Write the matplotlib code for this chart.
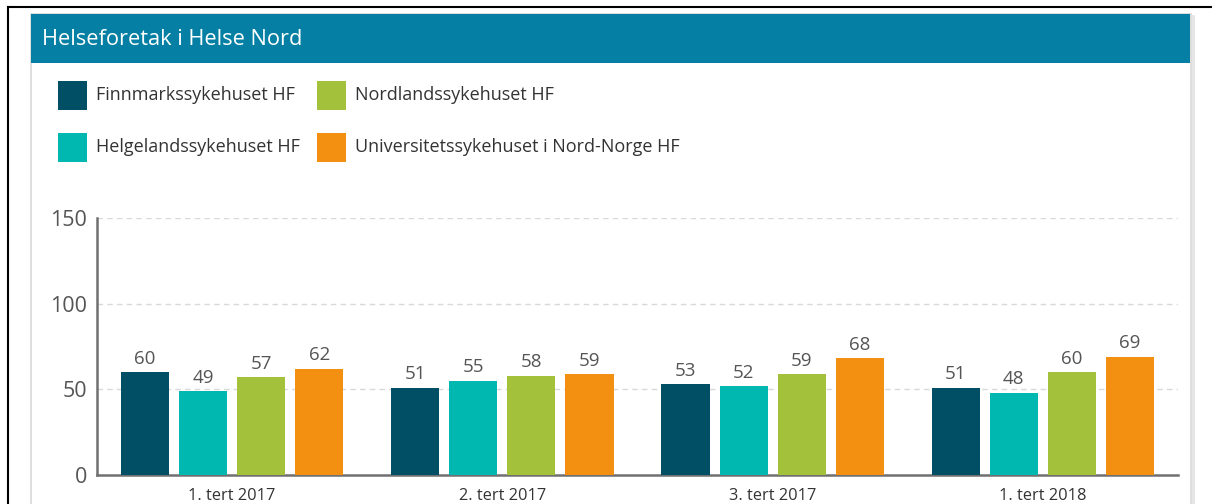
import numpy as np
import matplotlib.pyplot as plt
from matplotlib.patches import Rectangle
from matplotlib.lines import Line2D

# ── Data ───────────────────────────────────────────────────────────────────
periods = ["1. tert 2017", "2. tert 2017", "3. tert 2017", "1. tert 2018"]
hospitals = ["Finnmarkssykehuset HF", "Helgelandssykehuset HF",
             "Nordlandssykehuset HF", "Universitetssykehuset i Nord-Norge HF"]
finnmark  = [60, 51, 53, 51]
helgeland = [49, 55, 52, 48]
nordland  = [57, 58, 59, 60]
unn       = [62, 59, 68, 69]
series = [finnmark, helgeland, nordland, unn]
colors = ["#004F65", "#00B8B0", "#A3C13A", "#F39012"]
yticks = [0, 50, 100, 150]

W, H = 1212, 504
FONT = "Open Sans"
plt.rcParams["font.family"] = [FONT, "DejaVu Sans"]

fig = plt.figure(figsize=(W / 100, H / 100), dpi=100)
fig.patch.set_facecolor("white")


def px(x, y):
    # pixel coords (top-left origin) -> figure fraction
    return x / W, 1 - y / H


# ── Page frame lines ───────────────────────────────────────────────────────
fig.add_artist(Line2D([8 / W, 1], [1 - 7 / H] * 2, color="black", lw=1.5))
fig.add_artist(Line2D([8 / W] * 2, [0, 1 - 7 / H], color="black", lw=1.5))

# ── Card and header ────────────────────────────────────────────────────────
fig.add_artist(Rectangle(px(31, 510), 1160 / W, 496 / H, facecolor="white",
                         edgecolor="#D8D8D8", lw=1.2, zorder=-5))
fig.add_artist(Line2D([1193 / W] * 2, [0, 1 - 16 / H], color="#E4E4E4", lw=2))
fig.add_artist(Rectangle(px(31, 63), 1159 / W, 49 / H, facecolor="#0580A4",
                         edgecolor="none"))
fig.text(*px(42, 40), "Helseforetak i Helse Nord", color="white",
         fontsize=15.7, va="center", ha="left")

# ── Legend ─────────────────────────────────────────────────────────────────
leg_pos = [(58, 95), (58, 147), (317, 95), (317, 147)]
for (lx, ly), name, col in zip(leg_pos, hospitals, colors):
    fig.add_artist(Rectangle(px(lx, ly + 14.5), 29 / W, 29 / H,
                             facecolor=col, edgecolor="none"))
    fig.text(*px(lx + 38, ly), name, color="#333333", fontsize=13,
             va="center", ha="left")

# ── Chart ──────────────────────────────────────────────────────────────────
x0, x1, ytop, ybot = 97, 1178, 218, 475
ax = fig.add_axes([x0 / W, 1 - ybot / H, (x1 - x0) / W, (ybot - ytop) / H])
ax.set_facecolor("none")
ax.set_zorder(5)

x = np.arange(len(periods))
pitch, width = 0.215, 0.178
for i, (vals, col) in enumerate(zip(series, colors)):
    pos = x + (i - 1.5) * pitch
    bars = ax.bar(pos, vals, width=width, color=col, zorder=3)
    for b, v in zip(bars, vals):
        ax.text(b.get_x() + b.get_width() / 2, v + 2.5, str(v), ha="center",
                va="bottom", fontsize=13.5, color="#555555")

ax.set_xlim(-0.5, len(periods) - 0.5)
ax.set_ylim(0, 150)
ax.set_yticks(yticks)
ax.set_xticks(x)
ax.set_xticklabels(periods)
ax.tick_params(axis="y", length=0, pad=7, labelsize=15.5, labelcolor="#555555")
ax.tick_params(axis="x", length=0, pad=9, labelsize=11.8, labelcolor="#333333")
for v in yticks[1:]:
    ax.axhline(v, color="#D9D9D9", lw=1, ls=(0, (4, 3)), zorder=1)
for s in ["top", "right"]:
    ax.spines[s].set_visible(False)
for s in ["left", "bottom"]:
    ax.spines[s].set_color("#707070")
    ax.spines[s].set_linewidth(1.8)

fig.savefig("out.png", dpi=100, facecolor="white")
